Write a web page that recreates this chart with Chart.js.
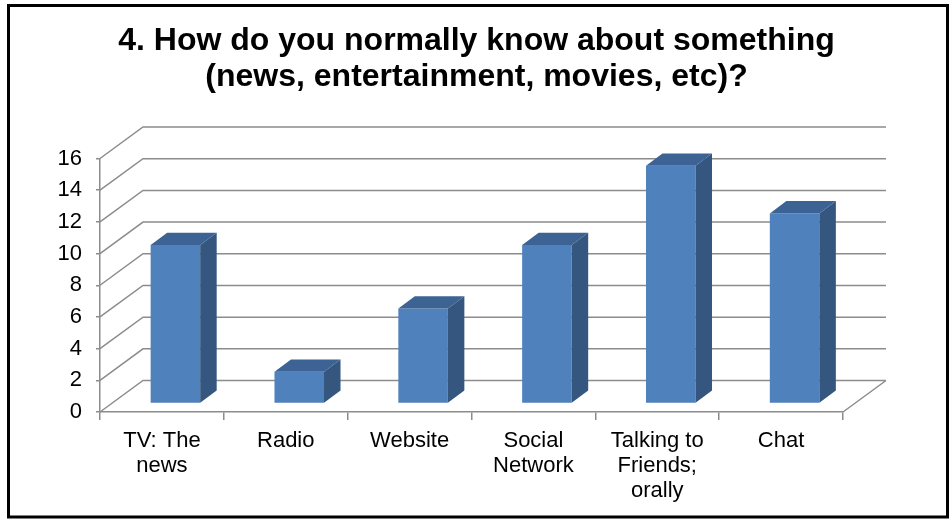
<!DOCTYPE html>
<html>
<head>
<meta charset="utf-8">
<title>How do you normally know about something</title>
<script src="https://cdn.jsdelivr.net/npm/chart.js@4/dist/chart.umd.min.js"></script>
<style>
  html, body { margin: 0; padding: 0; background: #fff; }
  canvas { display: block; }
</style>
</head>
<body>
<canvas id="myChart" width="949" height="522"></canvas>
<script>
// survey answers
const categories = [
    ['TV: The', 'news'],
    ['Radio'],
    ['Website'],
    ['Social', 'Network'],
    ['Talking to', 'Friends;', 'orally'],
    ['Chat']
];
const responses = [10, 2, 6, 10, 15, 12];
const yMin = 0;
const yMax = 16;
const yStep = 2;
const titleLines = ['4. How do you normally know about something', '(news, entertainment, movies, etc)?'];

// fake 3d look: back wall offset, bar offset inside the box, bar depth
const wallDx = 43, wallDy = -31.5;
const barDx = 13.5, barDy = -8.5;
const depthDx = 16.5, depthDy = -12.3;

const gridColor = '#8c8c8c';
const frontColor = '#4f81bd';
const sideColor = '#34567f';
const topColor = '#3c6393';
const fontFamily = "'Liberation Sans', Arial, sans-serif";

const box3d = {
    id: 'box3d',
    beforeDatasetsDraw(chart) {
        const ctx = chart.ctx;
        const a = chart.chartArea;
        const y = chart.scales.y;
        const y0 = y.getPixelForValue(0);
        ctx.save();
        ctx.strokeStyle = gridColor;
        ctx.lineWidth = 1.5;
        ctx.beginPath();
        y.ticks.forEach(t => {
            const py = y.getPixelForValue(t.value);
            ctx.moveTo(a.left, py);
            ctx.lineTo(a.left + wallDx, py + wallDy);
            ctx.lineTo(a.right + wallDx, py + wallDy);
        });
        // right edge of the floor
        ctx.moveTo(a.right, y0);
        ctx.lineTo(a.right + wallDx, y0 + wallDy);
        ctx.stroke();
        ctx.restore();
        // front faces are pushed a bit into the box
        ctx.save();
        ctx.translate(barDx, barDy);
    },
    afterDatasetsDraw(chart) {
        const ctx = chart.ctx;
        ctx.restore();
        chart.getDatasetMeta(0).data.forEach(bar => {
            const p = bar.getProps(['x', 'y', 'base', 'width'], true);
            const l = p.x - p.width / 2 + barDx;
            const r = p.x + p.width / 2 + barDx;
            const t = p.y + barDy;
            const b = p.base + barDy;
            ctx.fillStyle = sideColor;
            ctx.beginPath();
            ctx.moveTo(r, t);
            ctx.lineTo(r + depthDx, t + depthDy);
            ctx.lineTo(r + depthDx, b + depthDy);
            ctx.lineTo(r, b);
            ctx.closePath();
            ctx.fill();
            ctx.fillStyle = topColor;
            ctx.beginPath();
            ctx.moveTo(l, t);
            ctx.lineTo(l + depthDx, t + depthDy);
            ctx.lineTo(r + depthDx, t + depthDy);
            ctx.lineTo(r, t);
            ctx.closePath();
            ctx.fill();
        });
    },
    afterDraw(chart) {
        // outer frame
        const ctx = chart.ctx;
        ctx.save();
        ctx.strokeStyle = '#000';
        ctx.lineWidth = 3;
        ctx.strokeRect(8.5, 5.5, 939, 511.5);
        ctx.restore();
    }
};

const ctx = document.getElementById('myChart');

new Chart(ctx, {
    type: 'bar',
    data: {
        labels: categories,
        datasets: [{
            data: responses,
            backgroundColor: frontColor,
            borderWidth: 0,
            categoryPercentage: 1,
            barPercentage: 0.4,
            clip: false
        }]
    },
    options: {
        responsive: false,
        devicePixelRatio: 1,
        animation: false,
        layout: {
            padding: { left: 4, right: 0, top: 0, bottom: 0 }
        },
        plugins: {
            legend: { display: false },
            tooltip: { enabled: false },
            title: {
                display: true,
                text: titleLines,
                color: '#000',
                font: { family: fontFamily, size: 32, weight: 'bold', lineHeight: 36 / 32 },
                padding: { top: 23.5, bottom: 63 }
            }
        },
        scales: {
            x: {
                grid: {
                    display: true,
                    drawOnChartArea: false,
                    drawTicks: true,
                    tickLength: 8,
                    color: gridColor,
                    lineWidth: 1.5
                },
                border: { display: true, color: gridColor, width: 1.5 },
                ticks: {
                    color: '#000',
                    font: { family: fontFamily, size: 22, lineHeight: 25 / 22 },
                    padding: 8,
                    maxRotation: 0,
                    autoSkip: false
                },
                afterFit: scale => { scale.height = 110; }
            },
            y: {
                min: yMin,
                max: yMax,
                grid: {
                    display: true,
                    drawOnChartArea: false,
                    drawTicks: true,
                    tickLength: 4,
                    color: gridColor,
                    lineWidth: 1.5
                },
                border: { display: true, color: gridColor, width: 1.5 },
                ticks: {
                    stepSize: yStep,
                    color: '#000',
                    font: { family: fontFamily, size: 22 },
                    padding: 14
                },
                afterFit: scale => { scale.width = 96; }
            },
            // empty strip on the right so the back wall fits
            side: {
                position: 'right',
                display: true,
                grid: { display: false },
                border: { display: false },
                ticks: { display: false },
                afterFit: scale => { scale.width = 106; }
            }
        }
    },
    plugins: [box3d]
});
</script>
</body>
</html>
